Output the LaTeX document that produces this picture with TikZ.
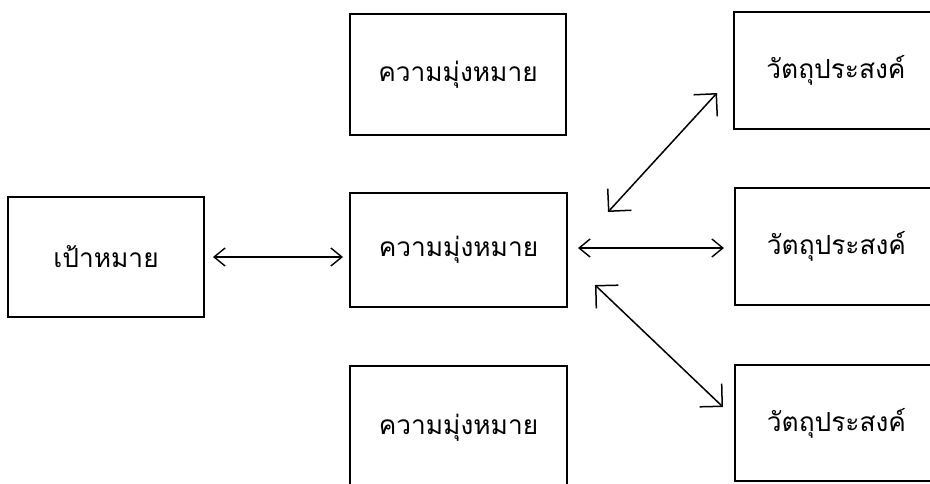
\documentclass[tikz,border=0pt]{standalone}
\usepackage{fontspec}
\newfontfamily\thaifont[Script=Thai]{Loma}
\usetikzlibrary{arrows.meta}
\begin{document}
\begin{tikzpicture}[x=1pt,y=-1pt,
 box/.style={draw, line width=1.5pt, inner sep=0pt, font=\thaifont\fontsize{26.3}{30}\selectfont},
 link/.style={line width=1.4pt, {Straight Barb[length=11pt,width=18pt]}-{Straight Barb[length=11pt,width=18pt]}},
 diag/.style={line width=1.5pt, {Straight Barb[length=16pt,width=32pt]}-{Straight Barb[length=16pt,width=32pt]}}]
\useasboundingbox (0,0) rectangle (930,483);
\clip (0,0) rectangle (930,483);
\node[box, minimum width=196pt, minimum height=120pt] (goal) at (106,257) {เป้าหมาย};
\node[box, minimum width=216pt, minimum height=121pt] (aimtop) at (458,74.5) {ความมุ่งหมาย};
\node[box, minimum width=217pt, minimum height=114pt] (aim) at (458.5,250) {ความมุ่งหมาย};
\node[box, minimum width=217pt, minimum height=124pt] (aimbot) at (458.5,428) {ความมุ่งหมาย};
\node[box, minimum width=204pt, minimum height=117pt] (objtop) at (836,70.5) {วัตถุประสงค์};
\node[box, minimum width=203pt, minimum height=117pt] (objmid) at (836.5,246.5) {วัตถุประสงค์};
\node[box, minimum width=203pt, minimum height=116pt] (objbot) at (836.5,423) {วัตถุประสงค์};
\coordinate (a1) at (213,257);
\coordinate (a2) at (343,257);
\coordinate (b1) at (578,248);
\coordinate (b2) at (724,248);
\coordinate (c1) at (608,212);
\coordinate (c2) at (717,93);
\coordinate (d1) at (595,285);
\coordinate (d2) at (723,407);
\draw[link] (a1) -- (a2);
\draw[link] (b1) -- (b2);
\draw[diag] (c1) -- (c2);
\draw[diag] (d1) -- (d2);
\end{tikzpicture}
\end{document}
